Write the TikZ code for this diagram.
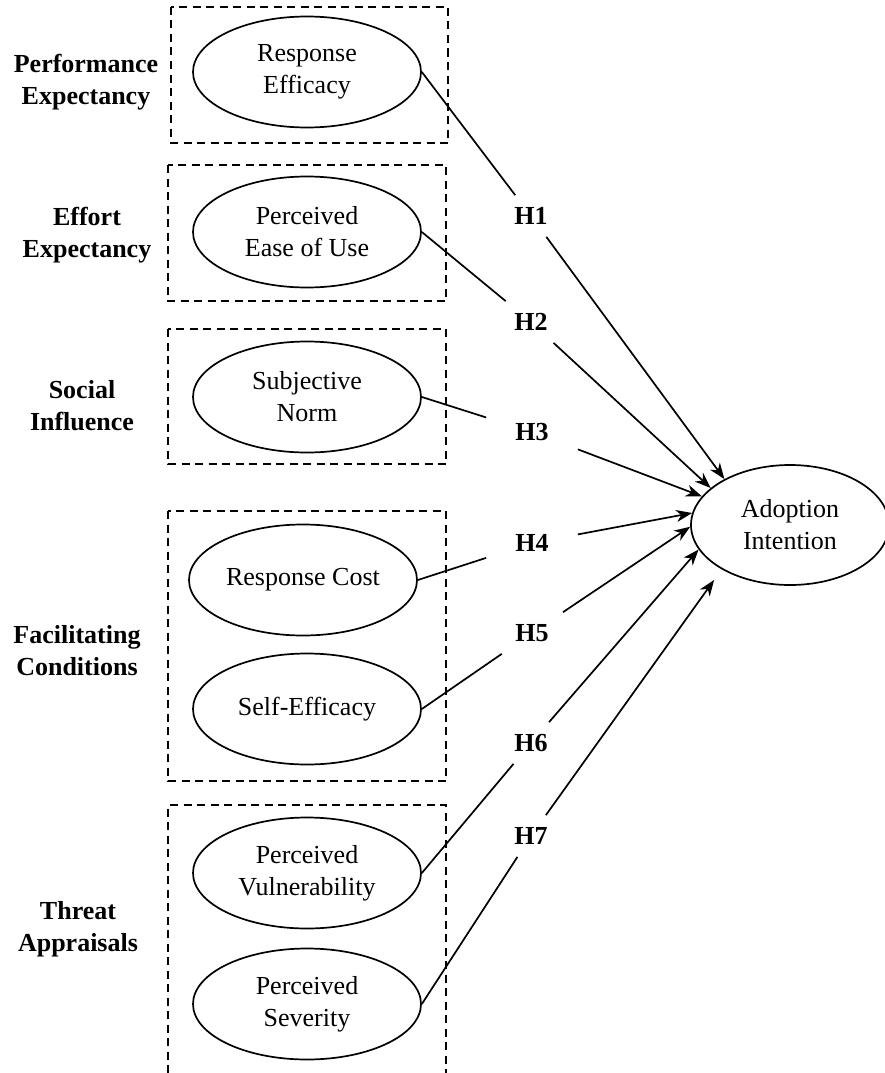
\documentclass[tikz,border=0pt]{standalone}
\usepackage{fontspec}
\setmainfont{Liberation Serif}
\usetikzlibrary{arrows.meta,shapes.geometric}

\begin{document}
\begin{tikzpicture}[x=1pt,y=-1pt,line width=1.7pt,
  construct/.style={draw,ellipse,minimum width=228pt,minimum height=111pt,inner sep=0pt,align=center,font=\fontsize{26}{32}\selectfont},
  grplabel/.style={align=center,font=\fontsize{26}{32}\selectfont\bfseries},
  hyp/.style={minimum width=90pt,minimum height=40pt,inner sep=0pt,font=\fontsize{26}{32}\selectfont\bfseries},
  grpbox/.style={line width=1.6pt,dash pattern=on 8pt off 5.5pt},
  link/.style={-{Stealth[length=16pt,width=12pt,inset=5pt]}}]
 \useasboundingbox (0,0) rectangle (884,1073);
 \draw[grpbox] (171,7) rectangle (448,143);
 \draw[grpbox] (168,165) rectangle (446,301);
 \draw[grpbox] (168,329) rectangle (446,464);
 \draw[grpbox] (168,511) rectangle (446,781);
 \draw[grpbox] (168,1073) |- (446,805) -- (446,1073);
 \node[grplabel] (pe) at (86,82) {Performance\\Expectancy};
 \node[grplabel] (ee) at (87,235) {Effort\\Expectancy};
 \node[grplabel] (si) at (82,406) {Social\\Influence};
 \node[grplabel] (fc) at (77,651) {Facilitating\\Conditions};
 \node[grplabel] (ta) at (78,929) {Threat\\Appraisals};
 \node[construct] (re) at (307,72) {Response\\Efficacy};
 \node[construct] (peou) at (307,232) {Perceived\\Ease of Use};
 \node[construct] (sn) at (307,397) {Subjective\\Norm};
 \node[construct] (rc) at (303,580) {Response Cost};
 \node[construct] (se) at (307,709) {Self-Efficacy};
 \node[construct] (pv) at (307,873) {Perceived\\Vulnerability};
 \node[construct] (ps) at (307,1004) {Perceived\\Severity};
 \node[construct,minimum width=198pt,minimum height=120pt] (ai) at (790,525) {Adoption\\Intention};
 \node[hyp] (h1) at (531,216) {H1};
 \node[hyp] (h2) at (531,322) {H2};
 \node[hyp] (h3) at (532,432) {H3};
 \node[hyp] (h4) at (532,543) {H4};
 \node[hyp] (h5) at (532,633) {H5};
 \node[hyp] (h6) at (531,743) {H6};
 \node[hyp] (h7) at (531,836) {H7};
 \draw (re.east) -- (h1);
 \draw[link] (h1) -- (ai.145);
 \draw (peou.east) -- (h2);
 \draw[link] (h2) -- (ai.155);
 \draw (sn.east) -- (h3);
 \draw[link] (h3) -- (ai.162);
 \draw (rc.east) -- (h4);
 \draw[link] (h4) -- (ai.173);
 \draw (se.east) -- (h5);
 \draw[link] (h5) -- (ai.181);
 \draw (pv.east) -- (h6);
 \draw[link] (h6) -- (ai.195);
 \draw (ps.east) -- (h7);
 \draw[link,shorten >=13pt] (h7) -- (ai.213);
\end{tikzpicture}
\end{document}
